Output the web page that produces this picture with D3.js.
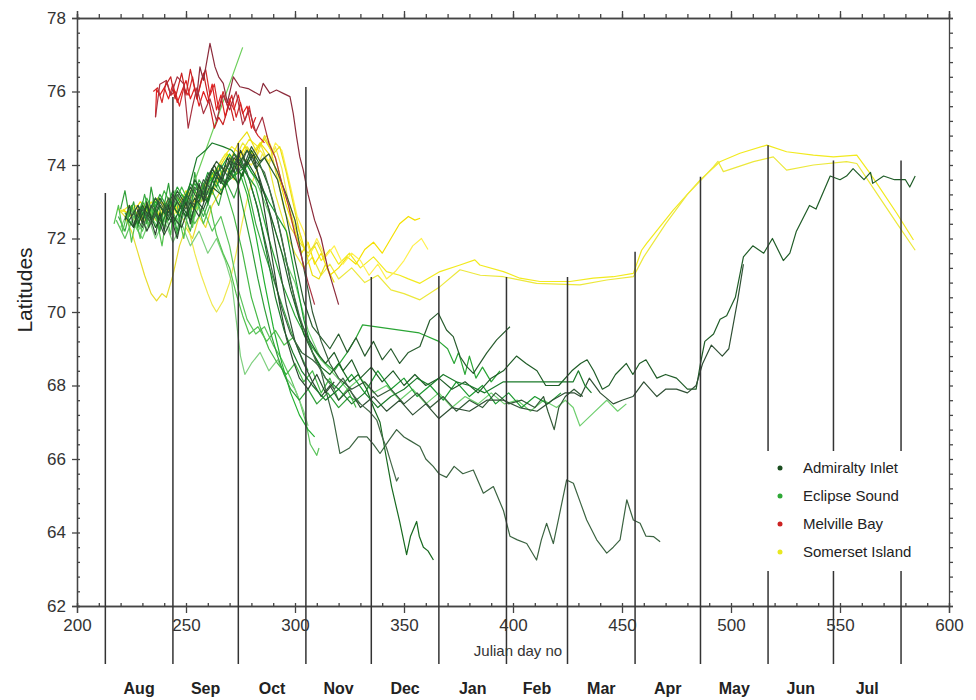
<!DOCTYPE html>
<html>
<head>
<meta charset="utf-8">
<script src="https://cdn.jsdelivr.net/npm/d3@7"></script>
<style>
  body { margin: 0; background: #fff; }
  svg { font-family: "Liberation Sans", Arial, sans-serif; }
</style>
</head>
<body>
<svg id="chart"></svg>
<script>
// month boundaries (julian day no, counted from Jan 1 of the first year)
let monthStarts = [213, 244, 274, 305, 335, 366, 397, 425, 456, 486, 517, 547, 578];
let monthNames = ["Aug", "Sep", "Oct", "Nov", "Dec", "Jan", "Feb", "Mar", "Apr", "May", "Jun", "Jul"];
// latitude where each month line starts (top end)
let monthLineTops = [73.24, 75.85, 74.6, 76.12, 70.95, 70.98, 70.95, 70.95, 71.64, 73.68, 74.54, 74.12, 74.12];
let xTicks = [200, 250, 300, 350, 400, 450, 500, 550, 600];
let yTicks = [62, 64, 66, 68, 70, 72, 74, 76, 78];
let legendLabels = ["Admiralty Inlet", "Eclipse Sound", "Melville Bay", "Somerset Island"];

// ---- Admiralty Inlet tracks [day, latitude]
let admiralty1 = [[222,72.6],[226,72.3],[230,72.8],[234,72.4],[238,72.9],[242,72.5],[246,73.0],[250,72.6],[254,73.1],[258,72.8],[262,73.4],[266,73.2],[270,73.8],[274,73.5],[278,74.1],[282,73.7],[286,73.2],[290,72.4],[294,71.6],[298,70.6],[302,69.8],[306,69.3],[310,68.9],[314,68.6],[318,68.9],[322,68.4],[326,68.7],[330,68.2],[335,68.5],[340,68.1],[345,68.4],[350,68.0],[355,68.3],[360,68.0],[366,68.2],[372,67.9],[378,68.1],[384,67.8],[390,68.2],[395.6,68.4],[401.6,68.8],[406,68.6],[411,68.4],[415,68.0],[421,68.0],[427,68.4],[431,68.6],[434,68.7],[437,68.4],[441,67.9],[444,68.0],[447,68.3],[452,68.6],[455,68.3],[458,68.6],[461,68.7],[466,68.2],[470,68.3],[475,68.2],[480,67.9],[484,67.9],[486,68.6],[488,69.2],[492,69.4],[495,69.8],[498,69.9],[502,70.4],[505.7,71.5],[510,71.8],[515,71.6],[519,72.0],[524,71.4],[527,71.6],[530,72.2],[536,72.9],[539,72.8],[545.5,73.7],[550,73.6],[553,73.7],[556,73.9],[561,73.6],[564,73.8],[565,73.5],[570,73.7],[575,73.6],[580,73.6],[582,73.4],[584.5,73.7]];
let admiralty2 = [[224,72.5],[228,72.9],[232,72.2],[236,72.7],[240,72.1],[244,72.6],[248,72.3],[252,73.0],[256,72.6],[260,73.3],[264,73.8],[268,73.5],[272,74.2],[276,73.9],[280,74.3],[284,73.6],[288,72.8],[292,71.5],[296,70.2],[300,69.2],[304,68.6],[308,68.1],[312,67.7],[316,68.0],[320,67.6],[325,67.9],[330,67.4],[336,67.7],[342,67.3],[348,67.6],[354,67.2],[360,67.5],[366,67.1],[372,67.4],[380,67.3],[388,67.6],[395.6,67.6],[403,67.4],[411,67.3],[418,67.6],[424,67.8],[428,67.8],[431,67.7],[435,68.2],[440,67.8],[446,67.5],[450,67.6],[455,67.7],[460,68.1],[466,67.7],[470,67.9],[475,67.9],[480,67.8],[484,68.0],[487,68.6],[491,69.1],[496,68.8],[499,69.0],[503,70.3],[505.7,71.3]];
let admiralty3 = [[226,72.7],[230,72.3],[234,72.9],[238,72.5],[242,73.1],[246,72.7],[250,73.2],[254,72.9],[258,73.6],[262,73.3],[266,74.0],[270,73.6],[274,74.3],[278,73.8],[282,73.0],[286,72.0],[290,71.0],[294,70.1],[298,69.4],[303,68.9],[308,68.7],[311.5,68.5],[314,67.9],[317.6,67.1],[320.6,66.15],[325,66.3],[329,66.6],[333,66.6],[336,66.4],[339,66.15],[343,66.5],[346.6,66.8],[350,66.6],[352.8,66.5],[357.3,66.34],[360,66.0],[363.4,65.8],[366,65.6],[369.5,65.5],[373,65.8],[377,65.6],[381.8,65.7],[386.4,65.07],[391,65.25],[395.6,64.6],[398.6,63.9],[402,63.8],[406.3,63.7],[410.8,63.25],[413,63.8],[415.4,64.25],[418.5,63.7],[421,64.4],[424.6,65.43],[427.7,65.34],[431,64.8],[433.8,64.34],[438.4,63.8],[443,63.44],[446,63.6],[449.1,63.8],[452.2,64.89],[455.2,64.34],[458.3,64.25],[461,63.9],[464.4,63.89],[467.5,63.75]];
let admiralty4 = [[228,72.4],[232,72.9],[236,72.3],[240,72.8],[244,72.4],[248,72.9],[252,72.5],[256,73.2],[260,73.0],[264,73.7],[268,73.4],[272,74.0],[276,73.7],[280,74.4],[284,74.0],[288,73.4],[292,72.5],[296,71.4],[300,70.3],[304,69.4],[308,68.9],[312,68.5],[316,68.3],[320,68.6],[325,68.1],[329,68.3],[332.9,67.9],[336,67.4],[339,67.0],[342,66.0],[344.3,65.25],[348,64.3],[351.2,63.4],[353,63.9],[355.8,64.3],[357,63.9],[358.9,63.6],[361,63.5],[363.5,63.25]];
let admiralty5 = [[230,72.8],[234,72.4],[238,73.0],[242,72.6],[246,73.2],[250,72.8],[254,73.4],[258,73.1],[262,73.9],[266,73.5],[270,74.2],[274,73.8],[278,74.4],[282,74.1],[286,73.8],[290,73.0],[294,72.0],[298,70.8],[302,69.9],[306,69.2],[310,68.6],[314,68.2],[318,67.9],[322,68.2],[326,67.8],[330,67.5],[334,67.3],[337.5,67.06],[340,66.6],[342,66.3],[344,65.9],[346.6,65.4],[347.5,65.5]];
let admiralty6 = [[226,72.4],[230,72.9],[234,72.5],[238,73.1],[242,72.7],[246,73.3],[250,72.9],[254,73.6],[258,73.2],[262,73.9],[266,73.5],[270,74.1],[274,74.0],[278,74.4],[282,73.9],[286,74.2],[292,73.6],[296,72.6],[300,71.4],[304,70.3],[308,69.6],[312,69.3],[316,69.0],[320,69.4],[324,68.9],[328,69.3],[332,68.8],[336,69.2],[340,68.7],[344,69.0],[348,68.6],[352,68.9],[357.3,69.06],[361.9,69.78],[365.7,69.97],[369.5,69.51],[372.6,69.33],[375.7,68.79],[378.7,68.52],[381.8,68.33],[387.9,68.88],[392.5,69.24],[398.6,69.6]];
let admiralty7 = [[232,72.6],[236,73.1],[240,72.7],[244,73.2],[248,72.8],[252,73.4],[256,73.0],[260,73.7],[264,74.1],[268,73.8],[272,74.3],[276,73.9],[280,74.5],[284,74.1],[288,74.3],[292,73.8],[296,73.2],[300,72.5],[304,71.2],[308,70.0],[312,69.2],[316,68.6],[320,68.2],[326,67.9],[332,68.1],[338,67.7],[344,67.9],[350,67.5],[356,67.8],[362,67.4],[368,67.7],[374,67.3],[380,67.6],[386,67.4],[392,67.8],[398,67.5],[404,67.6],[410,67.4],[414,67.7],[416,67.3],[418.9,66.8],[421,67.4],[424,67.7],[428,67.9],[432,67.7]];
let admiralty8 = [[235,72.9],[239,72.4],[243,73.0],[247,72.6],[251,73.3],[255,74.2],[259,74.4],[262,74.6],[267,74.5],[271,74.4],[275,74.1],[279,73.6],[283,72.8],[287,71.6],[291,70.4],[295,69.5],[299,68.9],[303,68.4],[308,68.0],[314,67.6],[320,67.9],[326,67.5],[332,67.8],[338,67.4],[344,67.7],[350,67.9],[356,68.2],[362,68.0],[368,68.3],[374,68.1],[380,68.0],[387,67.8],[395.6,68.1],[427.6,68.1],[430,68.4],[433,68.0],[436,67.8]];
let admiralty9 = [[222,72.5],[224,72.9],[226,72.3],[228,72.8],[230,72.4],[232,73.0],[234,72.5],[236,72.1],[238,72.7],[240,72.2],[242,72.9],[244,72.4],[246,72.0],[248,72.6],[250,73.0],[252,72.4],[254,72.9],[256,73.5],[258,73.0],[260,73.6],[263,74.0],[266,73.6],[269,74.2],[272,73.8],[275,74.4],[278,74.0],[281,74.3],[284,73.5],[287,72.4],[290,71.3],[293,70.2],[296,69.3],[299,68.7],[302,68.2],[306,67.9],[310,68.3],[314,67.8],[318,68.1]];

// ---- Eclipse Sound tracks
let eclipse1 = [[218,72.5],[222,72.0],[226,72.6],[230,72.2],[234,72.8],[238,72.3],[242,72.9],[246,72.5],[250,73.0],[254,72.4],[258,72.8],[262,72.2],[266,72.6],[270,71.8],[274,70.6],[278,69.8],[282,69.4],[286,69.6],[290,69.1],[294,68.7],[298,68.2],[302,67.6],[305,67.0],[307,66.4],[310,66.1],[311,66.3]];
let eclipse2 = [[220,72.3],[224,72.8],[228,72.2],[232,72.7],[236,72.0],[240,72.5],[244,71.9],[248,72.4],[252,71.8],[256,72.2],[260,71.6],[264,72.0],[268,71.4],[271,70.8],[273,69.8],[275,68.8],[277,68.3],[280,68.6],[284,68.9],[288,68.4],[292,68.7],[296,68.2],[300,67.9],[304,67.3],[306,66.9]];
let eclipse3 = [[222,72.7],[226,72.3],[230,73.0],[234,72.6],[238,73.2],[242,72.8],[246,73.4],[250,73.0],[254,73.5],[258,73.1],[262,73.8],[266,73.3],[270,73.6],[276,73.9],[282,73.4],[288,72.0],[294,70.8],[300,69.9],[306,69.2],[312,68.7],[318,68.4],[324,68.9],[328,69.3],[331,69.65],[357,69.43],[366,69.2],[370,69.0],[373,68.6],[375,68.9],[378,68.3],[380,68.8],[383,68.2],[386,68.5],[390,68.1],[394,68.4]];
let eclipse4 = [[226,72.4],[230,72.0],[234,72.6],[238,72.2],[242,72.9],[246,72.4],[250,73.0],[254,72.6],[258,73.2],[262,73.6],[266,73.2],[270,73.9],[274,73.5],[278,74.0],[282,73.6],[286,73.0],[290,72.4],[294,71.6],[300,70.8],[306,69.5],[312,68.7],[318,68.3],[324,67.9],[330,68.2],[336,67.8],[342,68.0],[348,67.6],[354,67.9],[360,67.5],[366,67.8],[372,67.4],[378,67.7],[384,67.5],[390,67.8],[396,67.5],[402,67.6],[408,67.3],[414,67.6],[420,67.4],[424,67.6],[427.6,67.4],[430.7,66.9],[436.8,67.25],[443,67.6],[448,67.3],[452,67.5]];
let eclipse5 = [[228,72.9],[232,72.5],[236,73.1],[240,72.7],[244,73.3],[248,72.9],[252,73.5],[256,73.1],[260,73.8],[264,73.4],[268,74.0],[272,73.7],[276,74.2],[280,73.8],[284,73.5],[288,73.0],[292,72.6],[296,72.2],[300,71.0],[304,69.8],[308,68.9],[314,68.2],[320,67.9],[326,68.3],[332,67.8],[338,68.4],[344,67.9],[350,68.2],[356,67.7],[362,68.0],[368,67.6],[374,68.1],[380,67.7],[386,68.0],[392,67.5],[398,67.8],[404,67.4],[410,67.7],[416,67.5],[422,67.8]];
let eclipse6 = [[224,72.9],[228,72.4],[232,73.1],[236,72.6],[240,73.3],[244,72.8],[248,73.4],[252,72.9],[256,73.6],[260,73.2],[264,73.9],[268,73.4],[272,72.6],[276,71.6],[280,70.4],[284,69.6],[288,69.0],[292,68.6],[296,68.3],[300,68.6],[304,68.1],[308,68.4],[312,67.8],[316,68.2],[320,67.6],[324,67.9],[328,67.4]];
let eclipse7 = [[219,72.6],[222,72.2],[225,72.9],[228,72.4],[231,73.2],[234,72.5],[237,73.0],[240,72.3],[243,72.8],[246,72.1],[249,72.7],[252,72.2],[255,73.0],[258,72.6],[262,73.3],[265,72.9],[268,73.6],[272,73.1],[276,73.8],[279,73.2],[282,72.4],[286,71.6],[290,70.9],[294,70.2],[298,69.5],[302,68.9],[306,68.4]];
let eclipse8 = [[230,72.5],[236,73.0],[242,72.6],[248,73.2],[254,72.8],[260,73.5],[266,73.9],[270,74.3],[274,73.9],[278,73.2],[282,72.1],[286,70.8],[290,69.6],[294,68.6],[298,67.8],[302,67.2],[306,66.8],[309,66.6]];
let eclipse9 = [[217,72.4],[219,72.9],[221,72.2],[223,72.7],[225,71.9],[227,72.5],[229,72.0],[231,72.8],[233,72.3],[235,73.1],[237,72.4],[239,71.8],[241,72.6],[243,72.1],[245,73.3],[247,72.5],[249,72.0],[251,72.8],[253,72.3],[255,73.0],[258,72.4],[261,72.9],[264,72.1],[267,71.6],[270,71.2],[273,70.5],[276,69.9],[279,69.4],[283,69.6],[287,69.2],[291,69.5],[295,69.1],[299,69.3],[303,68.9]];
let eclipse10 = [[220,72.8],[222,73.3],[224,72.6],[226,73.0],[228,72.3],[230,72.9],[232,72.4],[234,73.4],[236,72.8],[238,72.2],[240,72.9],[242,73.5],[244,72.7],[246,72.2],[248,72.8],[250,73.2],[252,72.6],[254,73.8],[256,73.1],[258,73.5],[260,72.9],[262,73.6],[265,74.0],[268,73.5],[271,74.1],[274,73.4],[277,72.6],[280,71.8],[283,70.9],[286,70.1],[289,69.4],[292,68.8],[295,68.3],[298,67.9],[302,67.6],[306,67.9],[310,67.5],[315,67.8],[320,67.4],[325,67.7],[330,67.5]];
let eclipse11 = [[250,72.6],[253,73.4],[276,77.2]];

// ---- Melville Bay tracks
let melville1 = [[236,75.3],[236.5,76.05],[238,75.9],[240,76.1],[242,75.8],[244,76.2],[246,75.7],[248,76.0],[250,76.3],[252,75.8],[254,76.1],[256,75.6],[258,76.0],[260,75.7],[262,76.2],[264,75.5],[266,75.9],[268,75.3],[270,75.8],[272,75.5],[274,75.9],[276,75.4],[278,75.6],[280,75.0],[282,75.3]];
let melville2 = [[235,76.0],[237,76.1],[239,75.7],[241,76.3],[243,75.9],[245,76.0],[247,75.6],[249,76.1],[251,75.9],[253,76.4],[255,75.8],[257,76.3],[259,76.6],[261,75.9],[263,76.2],[265,75.5],[267,76.0],[269,75.6],[271,75.9],[273,75.3],[275,75.7],[277,75.2],[279,75.6],[281,75.0],[283,74.8],[286,74.6]];
let melville3 = [[240,76.1],[243,76.4],[245,75.8],[248,76.5],[250,75.9],[252,76.6],[255,75.8],[258,76.5],[261,75.6],[263,75.0],[265,75.3],[267,75.1],[270,75.7],[272,75.2]];
let melville4 = [[255,75.9],[256.4,76.67],[258,76.3],[261,77.31],[263.3,76.67],[265,76.4],[267.1,76.22],[269,75.7],[271.7,76.4],[274.7,76.13],[278.5,76.08],[282.4,75.95],[283.9,75.9],[285.4,76.22],[288.5,75.95],[291.5,76.04],[294.6,75.95],[297.7,75.86],[299.2,75.4],[300.7,74.77],[302.2,74.22],[303.8,73.86],[306,73.2],[309,72.5],[312,72.0],[315,71.2],[318,70.6],[320,70.2]];
let melville5 = [[236,75.3],[238,76.2],[241,76.3],[243,75.9],[246,76.4],[249,76.2],[251,75.0],[253,75.6],[255,76.1],[258,75.4],[261,75.8],[264,75.2],[267,75.9],[270,75.5],[273,76.0],[276,75.1],[279,75.5],[282,74.9],[285,75.3],[288,74.6],[291,74.2],[294,73.5],[297,72.9],[300,72.1],[303,71.5],[306,70.8],[309,70.2]];

// ---- Somerset Island tracks
let somerset1 = [[219,72.8],[223,72.7],[227,72.9],[231,72.5],[235,72.8],[239,72.4],[243,72.9],[247,72.6],[251,73.1],[255,72.8],[259,73.4],[263,73.8],[267,74.2],[271,74.5],[275,74.3],[279,74.7],[283,74.5],[287,74.8],[291,74.2],[294,73.5],[297,72.9],[300,72.3],[303,71.9],[306,71.5],[309,71.8],[312,71.4],[316,71.7],[320,71.3],[325,71.6],[330,71.2],[336,71.5],[342,71.1],[348,71.0],[352,70.9],[357.3,70.78],[366.5,71.1],[375.7,71.28],[382.5,71.42],[384.8,71.28],[395.6,71.1],[403.2,70.92],[412.4,70.83],[426.1,70.83],[436.8,70.92],[446,70.96],[455.2,71.05],[459,71.68],[461.3,71.87],[473.5,72.77],[485.8,73.59],[494.9,74.09],[504.1,74.32],[516.4,74.54],[525.5,74.36],[537.8,74.27],[547,74.22],[557.7,74.27],[563.8,73.77],[576.1,72.68],[583.7,71.96]];
let somerset2 = [[220,72.7],[224,72.9],[228,72.6],[232,73.0],[236,72.5],[240,72.9],[244,72.6],[248,73.0],[252,72.7],[256,73.2],[260,73.6],[264,73.9],[268,74.3],[272,74.1],[276,74.6],[280,74.3],[284,74.6],[288,74.0],[291,73.2],[294,72.6],[297,72.0],[300,71.6],[304,71.2],[308,71.5],[312,71.0],[316,71.3],[320,70.9],[326,71.2],[332,70.8],[338,71.0],[344,70.6],[350,70.5],[357.3,70.33],[366.5,70.69],[375.7,71.15],[385,71.0],[395.6,70.96],[410.8,70.78],[430.7,70.74],[443,70.87],[455.2,70.96],[460,71.5],[470,72.4],[480,73.2],[488,73.7],[491.9,73.95],[494,74.1],[496.5,73.82],[510.3,74.09],[519.4,74.22],[525.5,73.86],[537.8,74.0],[553,74.09],[557.7,74.04],[563.8,73.5],[576.1,72.41],[584.5,71.68]];
let somerset3 = [[221,72.8],[225,72.6],[229,73.0],[233,72.7],[237,73.1],[241,72.8],[245,73.2],[249,72.9],[253,73.4],[257,73.0],[261,73.6],[265,73.9],[269,74.3],[273,74.0],[277,74.5],[281,74.2],[284,74.6],[288,74.3],[292,73.8],[296,72.9],[300,72.2],[303,71.6],[306,71.9],[309,71.3],[312,71.6],[316,71.0],[320,71.2],[324,71.5],[328,71.3],[332,71.7],[336,71.9],[340,71.6],[344,72.0],[348,72.4],[352,72.6],[355,72.5],[357.4,72.55]];
let somerset4 = [[224,72.7],[228,72.4],[232,72.8],[236,72.5],[240,73.0],[244,72.7],[248,73.1],[252,72.8],[256,73.4],[260,73.1],[264,73.6],[268,73.9],[272,73.6],[276,74.2],[280,74.0],[284,74.4],[288,74.1],[291,74.6],[294,74.4],[298,73.4],[301,72.6],[304,72.2],[307,71.6],[310,72.0],[314,71.5],[318,71.8],[322,71.3],[326,71.6],[330,71.4],[334,71.0],[338,71.3],[342,70.9],[346,71.1],[350,71.4],[354,71.8],[358,72.0],[361,71.7]];
let somerset5 = [[219,72.8],[222,72.6],[225,72.2],[228,71.6],[231,71.0],[234,70.5],[236.5,70.3],[239,70.5],[241,70.4],[244,71.0],[247,71.8],[250,72.3],[253,72.0],[256,72.6],[259,72.3],[262,72.9],[266,73.3],[270,73.8],[274,74.0],[278,74.5],[282,74.2],[286,74.8],[289,74.4],[292,73.6],[295,72.8],[298,72.3],[302,71.9],[306,71.6],[310,71.9],[314,71.4]];
let somerset6 = [[223,72.6],[227,72.9],[231,72.5],[235,72.9],[239,72.6],[243,73.0],[247,72.7],[251,72.3],[254,71.6],[257,71.0],[260,70.5],[262,70.2],[264,70.0],[267,70.3],[270,70.8],[273,71.6],[276,72.5],[279,73.3],[282,73.8],[285,74.3],[288,74.0],[291,74.5],[294,73.9],[297,73.0],[300,72.5],[303,72.0]];
let somerset7 = [[226,72.8],[230,72.5],[234,73.0],[238,72.6],[242,73.1],[246,72.8],[250,73.3],[254,73.0],[258,73.5],[262,73.2],[266,73.8],[270,74.1],[274,74.6],[278,74.9],[282,74.4],[286,74.7],[290,74.3],[293,74.5],[296,73.8],[299,73.0],[302,72.2],[305,71.6],[308,71.0],[311,70.9],[314,71.3],[318,70.8]];

let admiraltyTracks = [admiralty1, admiralty2, admiralty3, admiralty4, admiralty5, admiralty6, admiralty7, admiralty8, admiralty9];
let eclipseTracks = [eclipse1, eclipse2, eclipse3, eclipse4, eclipse5, eclipse6, eclipse7, eclipse8, eclipse9, eclipse10, eclipse11];
let melvilleTracks = [melville1, melville2, melville3, melville4, melville5];
let somersetTracks = [somerset1, somerset2, somerset3, somerset4, somerset5, somerset6, somerset7];

// line colours per area (several shades, as in the original)
let shades = {
    admiralty: ['#1f5c27', '#2f4f34', '#3b6341', '#17691f', '#46694a', '#285c2e', '#335a38', '#1b7a2a', '#2a4a2e'],
    eclipse: ['#5cc45c', '#7fd07f', '#2aa535', '#6fcf6f', '#1c9a30', '#46b846', '#3aa843', '#22b030', '#53c24f', '#2f9e38', '#6ccf5a'],
    melville: ['#e01e1e', '#d42a2a', '#c92020', '#8c2b3b', '#a83240'],
    somerset: ['#f2ea1e', '#ece83c', '#f5e000', '#fff04d', '#e8dc30', '#f0e850', '#eadf10']
};
let legendColours = ['#1a4d1f', '#2ea836', '#cc2222', '#e8e820'];

let width = 976,
    height = 700;

let svg = d3.select("#chart")
    .attr("width", width)
    .attr("height", height);

let x = d3.scaleLinear().domain([200, 600]).range([77, 949]);
let y = d3.scaleLinear().domain([62, 78]).range([606, 18]);

let line = d3.line()
    .x(d => x(d[0]))
    .y(d => y(d[1]));

let groups = [
    ["somerset", somersetTracks],
    ["eclipse", eclipseTracks],
    ["admiralty", admiraltyTracks],
    ["melville", melvilleTracks]
];

groups.forEach(([key, tracks]) => {
    svg.append("g")
        .selectAll("path")
        .data(tracks)
        .enter().append("path")
        .attr("d", line)
        .attr("fill", "none")
        .attr("stroke", (d, i) => shades[key][i % shades[key].length])
        .attr("stroke-width", 1.2)
        .attr("stroke-linejoin", "round");
});

// axes (frame with major/minor ticks)
let minorX = d3.range(200, 601, 10);
let minorY = d3.range(62, 78.01, 0.4);
let axisColour = "#444";

function styleAxis(g) {
    g.selectAll("path, line").attr("stroke", axisColour).attr("stroke-width", 1.3);
    g.selectAll("text").attr("fill", "#333").attr("font-size", 17);
}

svg.append("g")
    .attr("transform", "translate(0,606)")
    .call(d3.axisBottom(x).tickValues(xTicks).tickSize(7).tickPadding(6).tickFormat(d3.format("d")))
    .call(styleAxis);
svg.append("g")
    .attr("transform", "translate(0,606)")
    .call(d3.axisTop(x).tickValues(minorX).tickSize(3).tickFormat(""))
    .call(styleAxis);
svg.append("g")
    .attr("transform", "translate(0,18)")
    .call(d3.axisTop(x).tickValues(minorX).tickSize(4).tickFormat(""))
    .call(styleAxis);
svg.append("g")
    .attr("transform", "translate(0,18)")
    .call(d3.axisTop(x).tickValues(xTicks).tickSize(7).tickFormat(""))
    .call(styleAxis);

svg.append("g")
    .attr("transform", "translate(77,0)")
    .call(d3.axisLeft(y).tickValues(yTicks).tickSize(5).tickPadding(6).tickFormat(d3.format("d")))
    .call(styleAxis);
svg.append("g")
    .attr("transform", "translate(77,0)")
    .call(d3.axisRight(y).tickValues(minorY).tickSize(3).tickFormat(""))
    .call(styleAxis);
svg.append("g")
    .attr("transform", "translate(949,0)")
    .call(d3.axisRight(y).tickValues(minorY).tickSize(4).tickFormat(""))
    .call(styleAxis);

// month boundary lines
svg.append("g")
    .selectAll("line")
    .data(monthStarts)
    .enter().append("line")
    .attr("x1", d => x(d))
    .attr("x2", d => x(d))
    .attr("y1", (d, i) => y(monthLineTops[i]))
    .attr("y2", y(60.42))
    .attr("stroke", "#333")
    .attr("stroke-width", 1.5);

// month names between boundaries
svg.append("g")
    .selectAll("text")
    .data(monthNames)
    .enter().append("text")
    .attr("x", (d, i) => x((monthStarts[i] + monthStarts[i + 1]) / 2))
    .attr("y", 694)
    .attr("text-anchor", "middle")
    .attr("font-size", 16)
    .attr("font-weight", "bold")
    .attr("fill", "#222")
    .text(d => d);

// axis titles
svg.append("text")
    .attr("x", 518)
    .attr("y", 656)
    .attr("text-anchor", "middle")
    .attr("font-size", 15)
    .attr("fill", "#333")
    .text("Julian day no");

svg.append("text")
    .attr("transform", "translate(32,290) rotate(-90)")
    .attr("text-anchor", "middle")
    .attr("font-size", 21)
    .attr("fill", "#222")
    .text("Latitudes");

// legend
let legend = svg.append("g");
legend.append("rect")
    .attr("x", 757)
    .attr("y", 451)
    .attr("width", 190)
    .attr("height", 120)
    .attr("fill", "#fff");

let items = legend.selectAll(".item")
    .data(legendLabels)
    .enter().append("g")
    .attr("class", "item")
    .attr("transform", (d, i) => "translate(780," + (468 + i * 28) + ")");

items.append("circle")
    .attr("r", 2.5)
    .attr("fill", (d, i) => legendColours[i]);

items.append("text")
    .attr("x", 23)
    .attr("y", 5)
    .attr("font-size", 15)
    .attr("fill", "#222")
    .text(d => d);
</script>
</body>
</html>
